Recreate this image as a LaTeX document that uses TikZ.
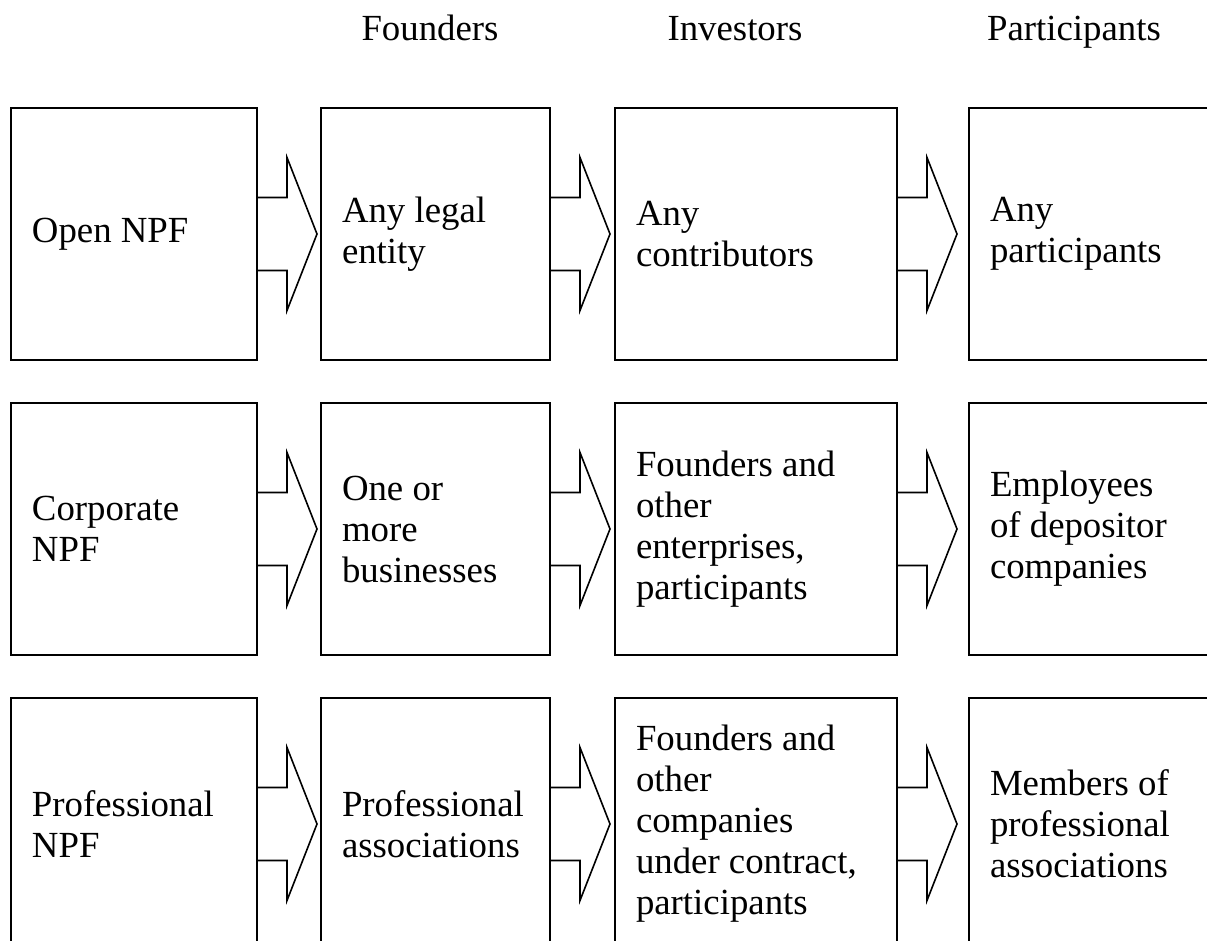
\documentclass[tikz,border=0pt]{standalone}
\usepackage{fontspec}
\setmainfont{Liberation Serif}
\usetikzlibrary{positioning}

\tikzset{
  cell/.style={draw,line width=1pt,minimum height=126pt,inner xsep=10.5pt,inner ysep=0pt,align=flush left,text width=#1},
  head/.style={anchor=base,inner sep=0pt},
  flow/.style={draw,line width=0.8pt,to path={(\tikztostart.east) ++(0,18.25pt) -- ++(14.5pt,0) -- ++(0,20pt)
    -- ++(15pt,-38.25pt) -- ++(-15pt,-38.25pt) -- ++(0,20pt) -- ++(-14.5pt,0)}}
}

\begin{document}
\begin{tikzpicture}[font=\fontsize{18.4pt}{20.5pt}\selectfont,node distance=20.5pt]
\useasboundingbox (0,0) rectangle (603.5pt,-470.5pt);

\node[cell=102pt,anchor=north west] (open) at (5pt,-53.5pt) {Open NPF};
\node[cell=93.5pt] (openF) [right=31pt of open] {Any legal\\entity};
\node[cell=120pt] (openI) [right=31.5pt of openF] {Any\\contributors};
\node[cell=100.5pt] (openP) [right=35pt of openI] {Any\\participants};

\node[cell=102pt] (corp) [below=of open] {Corporate\\NPF};
\node[cell=93.5pt] (corpF) [right=31pt of corp] {One or\\more\\businesses};
\node[cell=120pt] (corpI) [right=31.5pt of corpF] {Founders and\\other\\enterprises,\\participants};
\node[cell=100.5pt] (corpP) [right=35pt of corpI] {Employees\\of depositor\\companies};

\node[cell=102pt] (prof) [below=of corp] {Professional\\NPF};
\node[cell=93.5pt] (profF) [right=31pt of prof] {Professional\\associations};
\node[cell=120pt] (profI) [right=31.5pt of profF] {Founders and\\other\\companies\\under contract,\\participants};
\node[cell=100.5pt] (profP) [right=35pt of profI] {Members of\\professional\\associations};

\node[head] (hF) at ([xshift=-2.75pt,yshift=33pt]openF.north) {Founders};
\node[head] (hI) at ([xshift=-10.5pt,yshift=33pt]openI.north) {Investors};
\node[head] (hP) at ([xshift=-8.25pt,yshift=33pt]openP.north) {Participants};

\path
(open) edge[flow] (openF)
(openF) edge[flow] (openI)
(openI) edge[flow] (openP)
(corp) edge[flow] (corpF)
(corpF) edge[flow] (corpI)
(corpI) edge[flow] (corpP)
(prof) edge[flow] (profF)
(profF) edge[flow] (profI)
(profI) edge[flow] (profP)
;
\end{tikzpicture}
\end{document}
